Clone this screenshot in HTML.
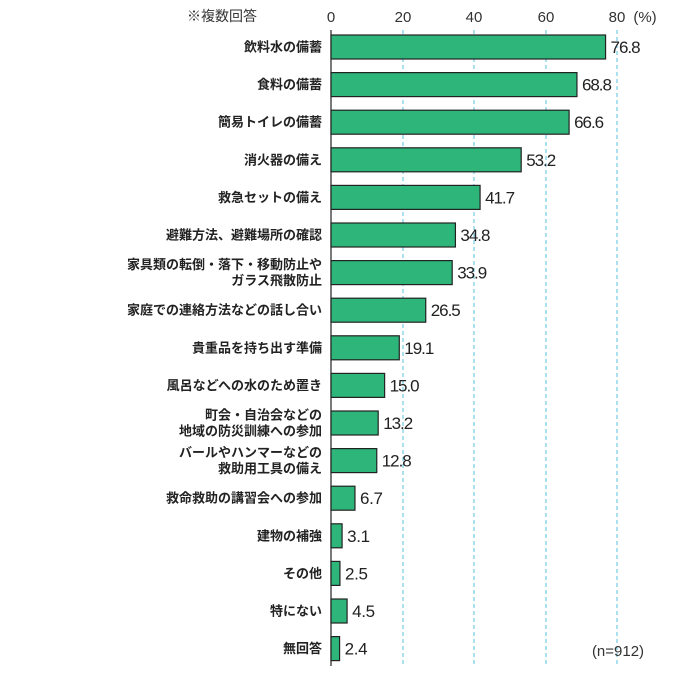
<!DOCTYPE html>
<html><head><meta charset="utf-8"><style>
body{margin:0;background:#fff;width:686px;height:677px;overflow:hidden}
svg text{font-family:"Liberation Sans","Noto Sans CJK JP",sans-serif}
</style></head><body>
<svg width="686" height="677" xmlns="http://www.w3.org/2000/svg">
<g font-size="15" fill="#333" text-anchor="middle">
<text x="331" y="22">0</text><text x="403" y="22">20</text><text x="474" y="22">40</text><text x="546" y="22">60</text><text x="617" y="22">80</text>
<text x="645" y="22">(%)</text>
</g>
<text x="222" y="21" font-size="14" fill="#333" text-anchor="middle">※複数回答</text>
<g stroke="#5bc0de" stroke-width="1" stroke-dasharray="4,3">
<line x1="403" y1="30" x2="403" y2="666"/><line x1="474" y1="30" x2="474" y2="666"/><line x1="546" y1="30" x2="546" y2="666"/><line x1="617" y1="30" x2="617" y2="666"/>
</g>
<line x1="331" y1="30" x2="331" y2="666" stroke="#222" stroke-width="1.2"/>
<g id="bars" fill="#2db57a" stroke="#222" stroke-width="1.2"></g>
<g id="labels" font-size="13" font-weight="bold" fill="#222" text-anchor="end"></g>
<g id="vals" font-size="17" fill="#222"></g>
<text x="618" y="656" font-size="15" fill="#333" text-anchor="middle">(n=912)</text>
<script>
var d=[["飲料水の備蓄",76.8],["食料の備蓄",68.8],["簡易トイレの備蓄",66.6],["消火器の備え",53.2],["救急セットの備え",41.7],["避難方法、避難場所の確認",34.8],["家具類の転倒・落下・移動防止や|ガラス飛散防止",33.9],["家庭での連絡方法などの話し合い",26.5],["貴重品を持ち出す準備",19.1],["風呂などへの水のため置き",15.0],["町会・自治会などの|地域の防災訓練への参加",13.2],["バールやハンマーなどの|救助用工具の備え",12.8],["救命救助の講習会への参加",6.7],["建物の補強",3.1],["その他",2.5],["特にない",4.5],["無回答",2.4]];
var ns="http://www.w3.org/2000/svg",b=document.getElementById("bars"),l=document.getElementById("labels"),v=document.getElementById("vals");
d.forEach(function(r,i){var c=47+i*37.6,w=r[1]*3.575;
var e=document.createElementNS(ns,"rect");e.setAttribute("x",331);e.setAttribute("y",c-12);e.setAttribute("width",w);e.setAttribute("height",24);b.appendChild(e);
var t=document.createElementNS(ns,"text");t.setAttribute("x",336+w);t.setAttribute("y",c+6);t.setAttribute("textLength",r[1]>=10?30:23);t.textContent=r[1].toFixed(1);v.appendChild(t);
var p=r[0].split("|");p.forEach(function(s,j){var q=document.createElementNS(ns,"text");q.setAttribute("x",322);q.setAttribute("y",c+4.5+(p.length>1?(j?8:-8):0));q.textContent=s;l.appendChild(q);});
});
</script>
</svg>
</body></html>
